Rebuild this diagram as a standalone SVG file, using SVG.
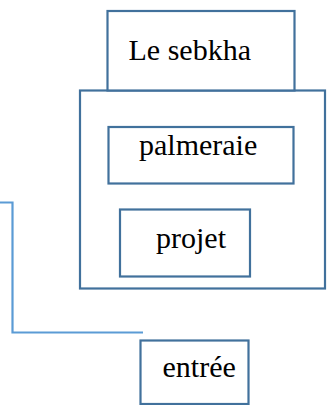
<svg xmlns="http://www.w3.org/2000/svg" width="329" height="405" viewBox="0 0 329 405">
<style>
.box{fill:#ffffff;stroke:#41719c;stroke-width:2.2}
.lbl{font-family:"Liberation Serif","Times New Roman",serif;font-size:30px;fill:#000000}
.conn{fill:none;stroke:#5b9bd5;stroke-width:2.2}
</style>
<rect width="329" height="405" fill="#ffffff"/>
<g id="connectors">
<path class="conn" d="M0,202.5 H12.5 V332.5 H143"/>
</g>
<g id="outer">
<rect class="box" x="80" y="90.5" width="245" height="198"/>
</g>
<g id="sebkha">
<rect class="box" x="107.5" y="11" width="187" height="79.5"/>
<text class="lbl" x="128.5" y="60">Le sebkha</text>
</g>
<g id="palmeraie">
<rect class="box" x="108.5" y="127" width="185" height="56.5"/>
<text class="lbl" x="139" y="155">palmeraie</text>
</g>
<g id="projet">
<rect class="box" x="120" y="209.5" width="130" height="67"/>
<text class="lbl" x="156" y="248">projet</text>
</g>
<g id="entree">
<rect class="box" x="140.5" y="340.5" width="108" height="63.5"/>
<text class="lbl" x="162.5" y="377">entrée</text>
</g>
</svg>
